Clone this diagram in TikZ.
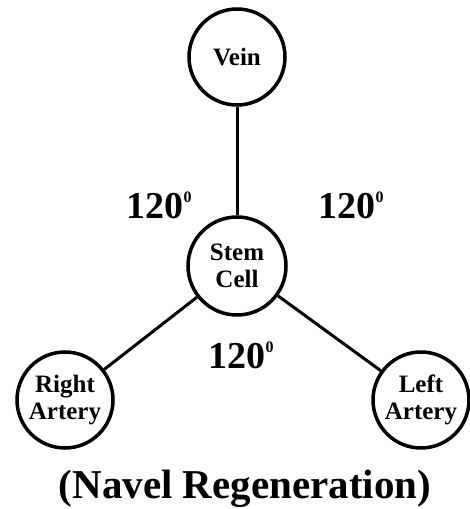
\documentclass[tikz,border=0pt]{standalone}
\usepackage{fontspec}
\setmainfont{Liberation Serif}
\newcommand{\degsup}{\raisebox{16pt}{\fontsize{16}{16}\selectfont 0}}
\begin{document}
\begin{tikzpicture}[x=1pt,y=1pt,
    cellnode/.style={circle, draw, line width=3.5pt, minimum size=96pt, inner sep=0pt,
        align=center, font=\bfseries\fontsize{25}{27}\selectfont},
    anglelabel/.style={font=\bfseries\fontsize{38}{40}\selectfont}]
                \useasboundingbox (0,0) rectangle (470,509);
                \node[cellnode] (vein) at (237,452) {Vein};
                \node[cellnode, minimum size=98pt] (stem) at (237,243) {Stem\\Cell};
                \node[cellnode] (right) at (65,109) {Right\\Artery};
                \node[cellnode] (left) at (421,109) {Left\\Artery};
                \draw[line width=3pt] (vein) -- (stem);
                \draw[line width=3pt] (stem) -- (right);
                \draw[line width=3pt] (stem) -- (left);
                \node[anglelabel] (angleleft) at (159,304) {120\degsup};
                \node[anglelabel] (angleright) at (351,304) {120\degsup};
                \node[anglelabel] (anglebottom) at (241,154) {120\degsup};
                \node[font=\bfseries\fontsize{41}{44}\selectfont] (title) at (245,20) {(Navel Regeneration)};
            \end{tikzpicture}
\end{document}
